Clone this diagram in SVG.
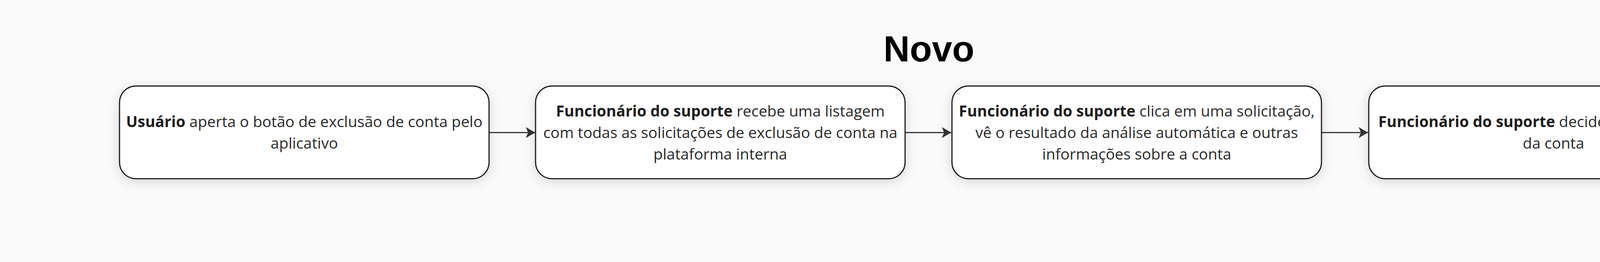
<svg xmlns="http://www.w3.org/2000/svg" width="4754" height="670" viewBox="0 0 4754 670">
<style>
.bg{fill:#fafafa}
.box{fill:#ffffff;stroke:#1e1e1e;stroke-width:3;filter:url(#sh)}
.t{font-family:"Open Sans","Noto Sans",sans-serif;font-size:39px;fill:#2a2a2a;text-anchor:middle}
.b{font-weight:700;fill:#1e1e1e}
.title{font-family:"Liberation Sans",Arial,sans-serif;font-size:93px;font-weight:700;fill:#000;text-anchor:middle}
.edge{stroke:#333333;stroke-width:3;fill:none;marker-end:url(#ah)}
</style>
<defs>
<filter id="sh" x="-10%" y="-30%" width="120%" height="170%">
<feDropShadow dx="0" dy="6" stdDeviation="14" flood-color="#000" flood-opacity="0.14"/>
</filter>
<marker id="ah" viewBox="0 0 24 28" refX="24" refY="14" markerWidth="24" markerHeight="28" markerUnits="userSpaceOnUse" orient="auto">
<path d="M0,0 L24,14 L0,28 L6,14 Z" fill="#333333"/>
</marker>
</defs>
<rect class="bg" x="0" y="0" width="4754" height="670"/>
<g id="title"><text class="title" x="2378" y="157">Novo</text></g>
<g id="connectors">
<line class="edge" x1="1253" y1="339" x2="1370" y2="339"/>
<line class="edge" x1="2318" y1="339" x2="2435" y2="339"/>
<line class="edge" x1="3384" y1="339" x2="3502" y2="339"/>
</g>
<g id="n1">
<rect class="box" x="306" y="220" width="946" height="237" rx="42" ry="42"/>
<text class="t" x="779" y="325"><tspan class="b">Usuário</tspan> aperta o botão de exclusão de conta pelo</text>
<text class="t" x="779" y="380">aplicativo</text>
</g>
<g id="n2">
<rect class="box" x="1371" y="220" width="946" height="237" rx="42" ry="42"/>
<text class="t" x="1844" y="298"><tspan class="b">Funcionário do suporte</tspan> recebe uma listagem</text>
<text class="t" x="1844" y="353">com todas as solicitações de exclusão de conta na</text>
<text class="t" x="1844" y="408">plataforma interna</text>
</g>
<g id="n3">
<rect class="box" x="2437" y="220" width="946" height="237" rx="42" ry="42"/>
<text class="t" x="2910" y="298"><tspan class="b">Funcionário do suporte</tspan> clica em uma solicitação,</text>
<text class="t" x="2910" y="353">vê o resultado da análise automática e outras</text>
<text class="t" x="2910" y="408">informações sobre a conta</text>
</g>
<g id="n4">
<rect class="box" x="3504" y="220" width="946" height="237" rx="42" ry="42"/>
<text class="t" x="3977" y="325"><tspan class="b">Funcionário do suporte</tspan> decide sobre a exclusão</text>
<text class="t" x="3977" y="380">da conta</text>
</g>
</svg>
